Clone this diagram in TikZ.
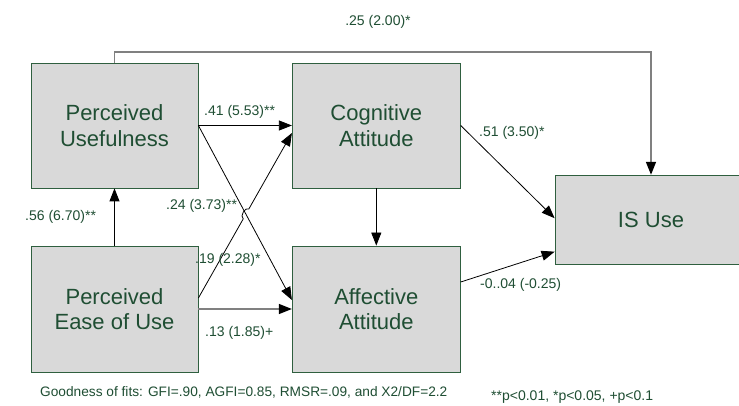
\documentclass[tikz,border=0pt]{standalone}
\usepackage{fontspec}
\setmainfont{Liberation Sans}
\usetikzlibrary{arrows.meta,calc}
\definecolor{txt}{HTML}{1F4E33}
\definecolor{bord}{HTML}{2F5F3F}
\definecolor{boxfill}{HTML}{D9D9D9}
\definecolor{topline}{HTML}{808080}
\begin{document}
\begin{tikzpicture}[x=1pt,y=-1pt,
  box/.style={draw=bord, line width=0.8pt, fill=boxfill, text=txt, align=center,
    font=\fontsize{22}{25.5}\selectfont, inner sep=0pt},
  lbl/.style={text=txt, font=\fontsize{14}{16}\selectfont, inner sep=0pt},
  note/.style={text=txt, font=\fontsize{13.7}{16}\selectfont, inner sep=0pt},
  arr/.style={draw=black, line width=0.8pt, -{Triangle[length=13pt,width=10pt]}},
  grayarr/.style={draw=topline, line width=1.6pt, -{Triangle[length=13pt,width=10pt,color=black]}},
]
\useasboundingbox (0,0) rectangle (739,406);
\clip (0,0) rectangle (739,406);
\fill[white] (0,0) rectangle (739,406);

\node[box, minimum width=167pt, minimum height=125pt] (pu) at (114.5,125.5) {Perceived\\Usefulness};
\node[box, minimum width=167pt, minimum height=126pt] (peu) at (114.5,309) {Perceived\\Ease of Use};
\node[box, minimum width=168pt, minimum height=125pt] (ca) at (376.3,125.5) {Cognitive\\Attitude};
\node[box, minimum width=168pt, minimum height=126pt] (aa) at (376.3,309) {Affective\\Attitude};
\node[box, minimum width=192pt, minimum height=89pt] (is) at (651,219.7) {IS Use};

\coordinate (top) at (383,52);
\coordinate (peuE) at ($(peu.east)+(0,-11)$);
\coordinate (caW) at ($(ca.west)+(0,7.5)$);

\draw[grayarr] (pu.north) |- (top) -| (is.north);
\draw[arr] (pu.east) -- (ca.west);
\draw[arr] (pu.east) -- ($(aa.west)+(0,-9)$);
\draw[arr] (peuE) -- ($(peuE)!0.48!(caW)$) to[bend left=90] ($(peuE)!0.54!(caW)$) -- (caW);
\draw[grayarr, line width=1.2pt] (peu.east) -- (aa.west);
\draw[arr] (peu.north) -- (pu.south);
\draw[arr] (ca.south) -- (aa.north);
\draw[arr] (ca.east) -- ($(is.west)+(0,-1.5)$);
\draw[arr] ($(aa.east)+(0,-27)$) -- ($(is.west)+(0,32)$);

\node[lbl] (l0) at (378,22) {.25 (2.00)*};
\node[lbl, anchor=west] (l1) at (204,112) {.41 (5.53)**};
\node[lbl, anchor=west] (l2) at (166,206) {.24 (3.73)**};
\node[lbl, anchor=west] (l3) at (195,260) {.19 (2.28)*};
\node[lbl, anchor=west] (l4) at (205,333) {.13 (1.85)+};
\node[lbl, anchor=west] (l5) at (25,217) {.56 (6.70)**};
\node[lbl, anchor=west] (l6) at (479,133) {.51 (3.50)*};
\node[lbl, anchor=west] (l7) at (480,285) {-0..04 (-0.25)};
\node[note, anchor=west] (n1) at (40,392) {Goodness of fits: GFI=.90, AGFI=0.85, RMSR=.09, and X2/DF=2.2};
\node[lbl, anchor=west] (n2) at (491,397) {**p<0.01, *p<0.05, +p<0.1};
\end{tikzpicture}
\end{document}
